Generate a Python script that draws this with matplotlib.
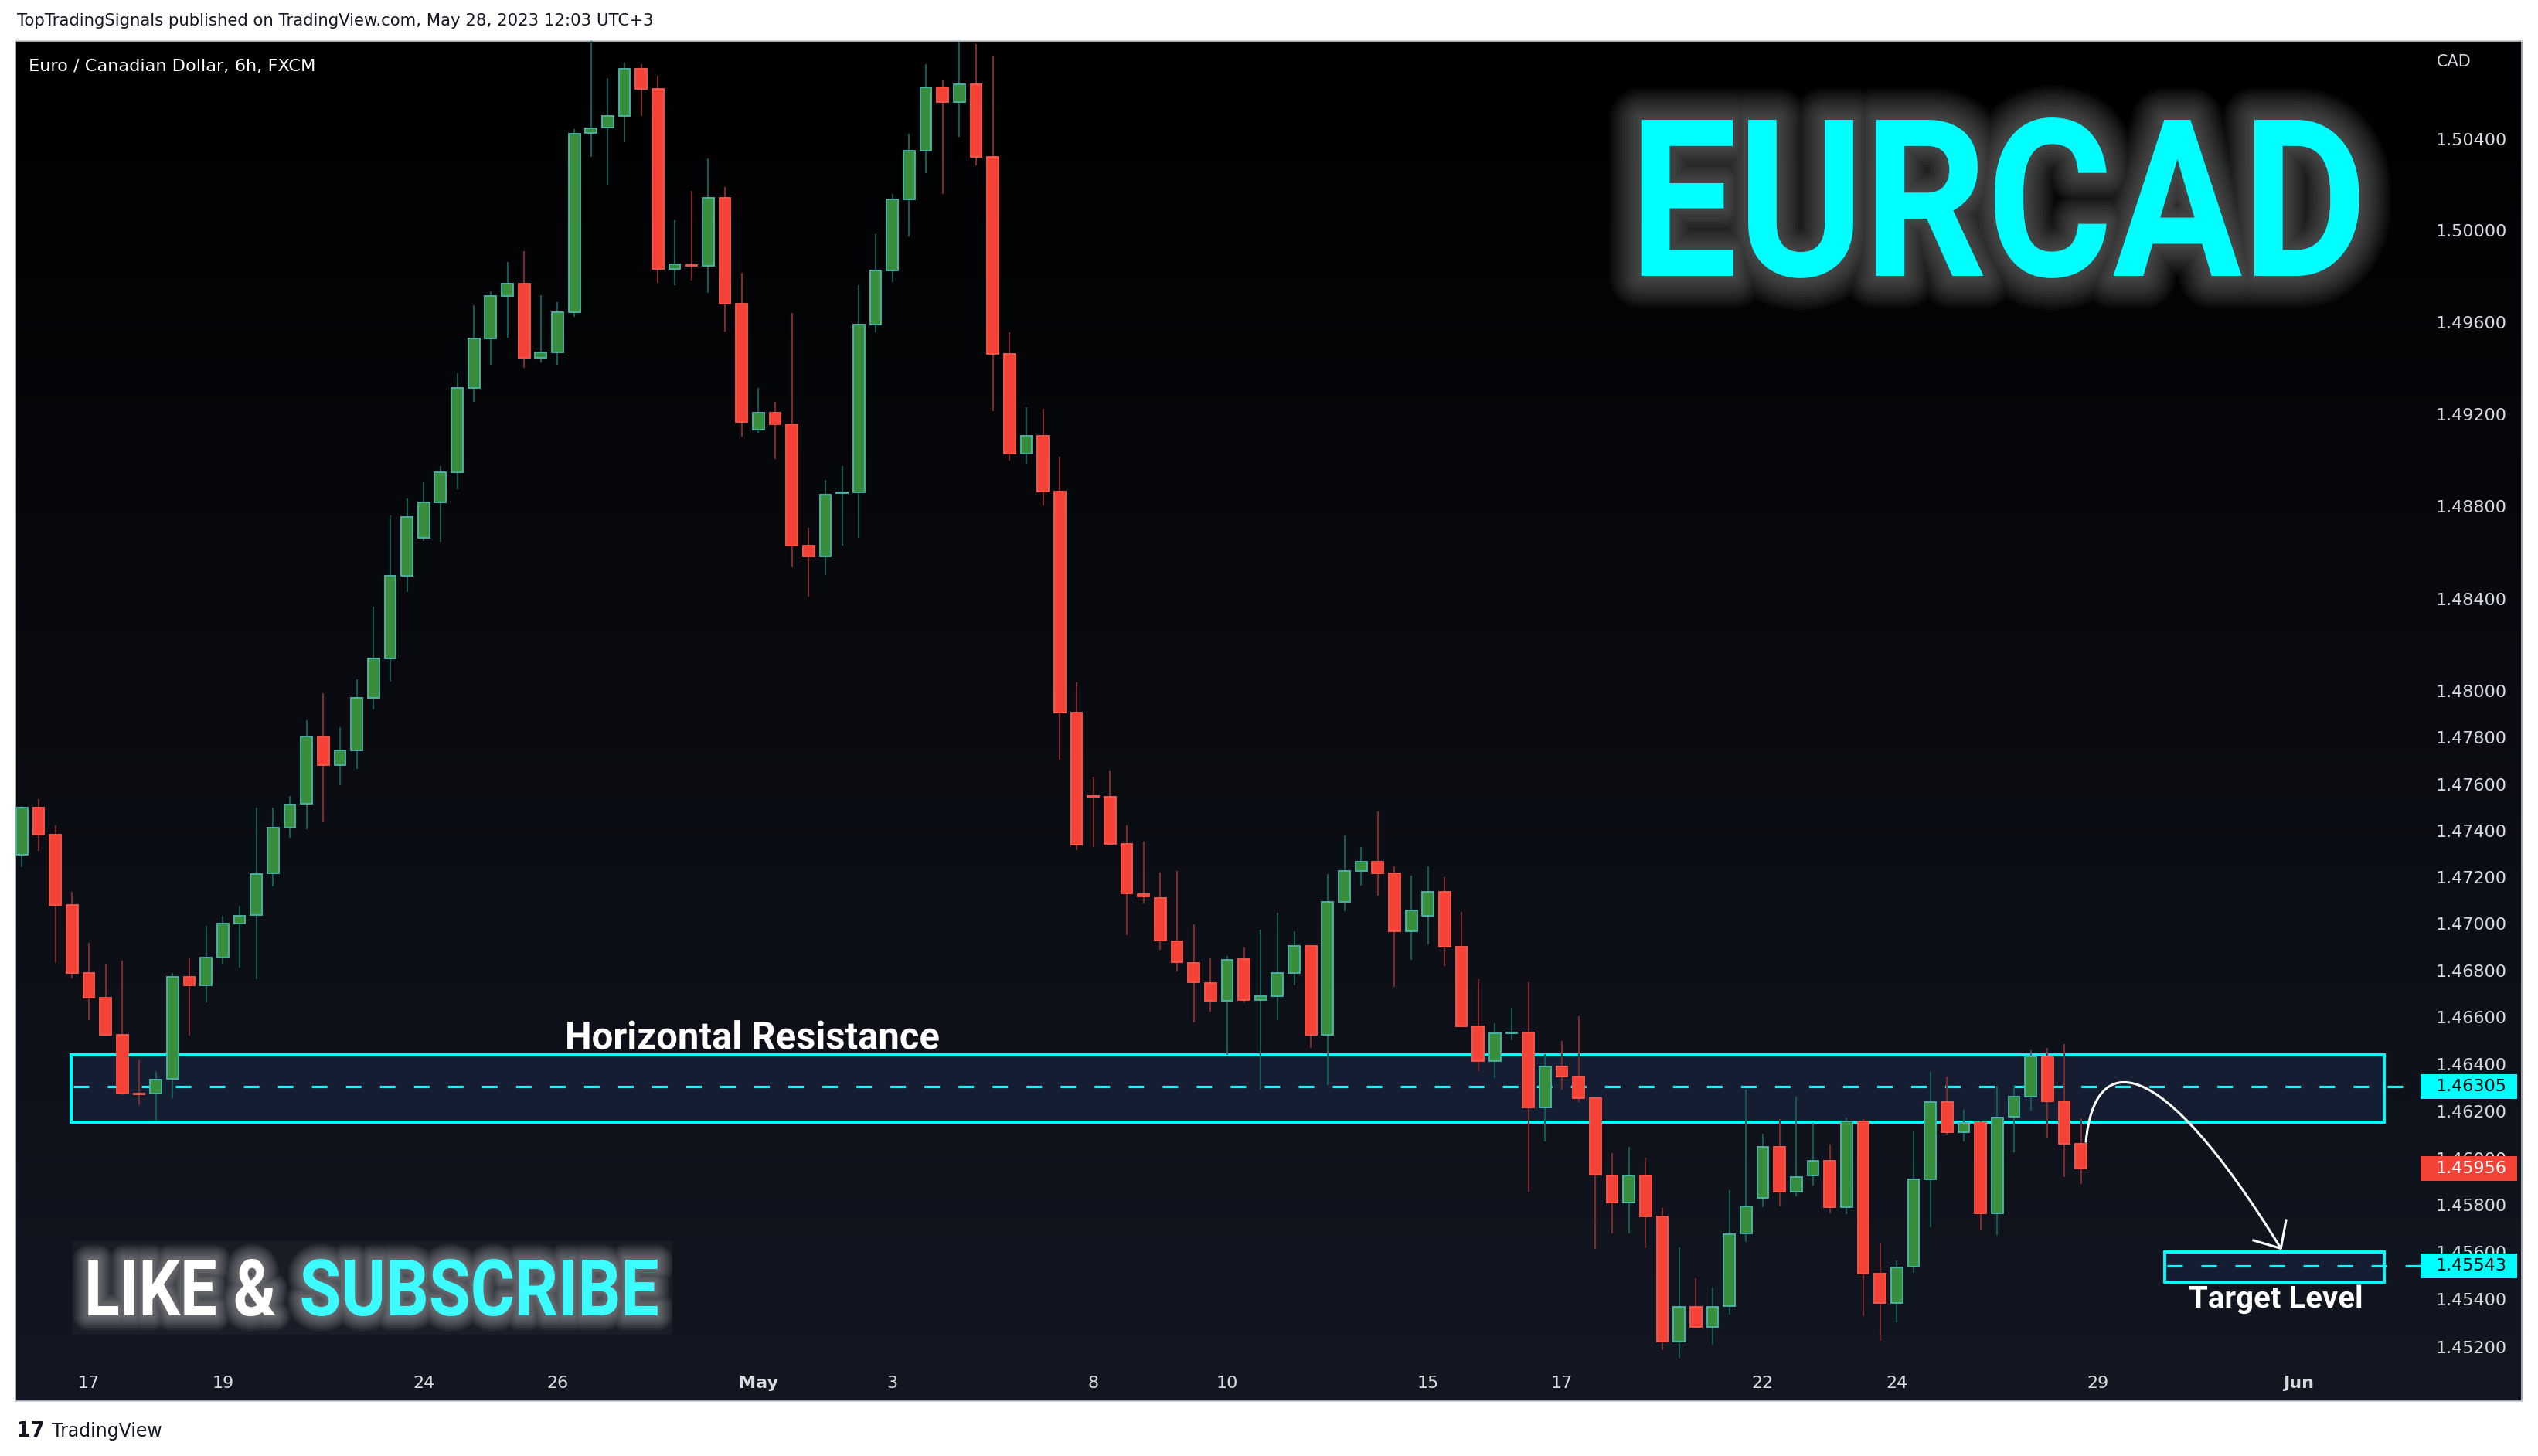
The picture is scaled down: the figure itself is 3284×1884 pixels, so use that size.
import numpy as np
import matplotlib
matplotlib.use("Agg")
import matplotlib.pyplot as plt
import matplotlib.patheffects as pe
from matplotlib.colors import LinearSegmentedColormap
from matplotlib.patches import Rectangle, FancyArrowPatch
from matplotlib.path import Path
from matplotlib.ticker import FixedLocator, FixedFormatter, NullLocator
from matplotlib.transforms import Affine2D, blended_transform_factory

plt.rcParams['font.family'] = ['DejaVu Sans']
plt.rcParams['lines.scale_dashes'] = False

W, H = 3284, 1884

# EURCAD 6h candles, bar 0 = Apr 17 00:00, leftmost visible bar is -4
first_bar = -4
opens = [1.47298, 1.47499, 1.47384, 1.47081, 1.46789, 1.46683, 1.46527, 1.46276, 1.46274, 1.46338,
         1.46772, 1.46736, 1.46857, 1.47001, 1.47037, 1.47216, 1.47412, 1.47514, 1.47804, 1.47681,
         1.47746, 1.47970, 1.48140, 1.48500, 1.48662, 1.48816, 1.48949, 1.49313, 1.49528, 1.49715,
         1.49769, 1.49446, 1.49470, 1.49642, 1.50427, 1.50450, 1.50501, 1.50709, 1.50619, 1.49831,
         1.49849, 1.49847, 1.50142, 1.49682, 1.49132, 1.49207, 1.49155, 1.48628, 1.48583, 1.48856,
         1.48861, 1.49591, 1.49824, 1.50136, 1.50351, 1.50629, 1.50562, 1.50641, 1.50324, 1.49461,
         1.49027, 1.49105, 1.48865, 1.47908, 1.47548, 1.47545, 1.47344, 1.47128, 1.47112, 1.46927,
         1.46832, 1.46747, 1.46670, 1.46848, 1.46675, 1.46692, 1.46789, 1.46905, 1.46527, 1.47093,
         1.47226, 1.47268, 1.47216, 1.46967, 1.47034, 1.47137, 1.46901, 1.46562, 1.46412, 1.46533,
         1.46537, 1.46215, 1.46389, 1.46346, 1.46257, 1.45928, 1.45813, 1.45925, 1.45751, 1.45223,
         1.45369, 1.45283, 1.45371, 1.45680, 1.45832, 1.46049, 1.45856, 1.45925, 1.45990, 1.45792,
         1.46157, 1.45510, 1.45384, 1.45538, 1.45911, 1.46238, 1.46109, 1.46153, 1.45764, 1.46176,
         1.46261, 1.46434, 1.46243, 1.46060]
highs = [1.47504, 1.47536, 1.47422, 1.47137, 1.46918, 1.46827, 1.46842, 1.46419, 1.46368, 1.46789,
         1.46854, 1.46992, 1.47034, 1.47078, 1.47498, 1.47498, 1.47550, 1.47875, 1.47991, 1.47844,
         1.48050, 1.48366, 1.48760, 1.48832, 1.48905, 1.48974, 1.49377, 1.49674, 1.49734, 1.49862,
         1.49909, 1.49717, 1.49686, 1.50443, 1.50830, 1.50668, 1.50736, 1.50728, 1.50677, 1.50044,
         1.50173, 1.50314, 1.50190, 1.49816, 1.49313, 1.49253, 1.49640, 1.48706, 1.48914, 1.48974,
         1.49763, 1.49983, 1.50161, 1.50424, 1.50728, 1.50659, 1.50828, 1.50816, 1.50768, 1.49555,
         1.49231, 1.49222, 1.49015, 1.48038, 1.47631, 1.47658, 1.47421, 1.47353, 1.47221, 1.47227,
         1.46997, 1.46853, 1.46862, 1.46900, 1.46975, 1.47047, 1.46969, 1.46910, 1.47214, 1.47380,
         1.47330, 1.47483, 1.47247, 1.47206, 1.47247, 1.47201, 1.47051, 1.46764, 1.46575, 1.46641,
         1.46751, 1.46444, 1.46499, 1.46605, 1.46260, 1.46022, 1.46049, 1.46002, 1.45789, 1.45621,
         1.45489, 1.45451, 1.45864, 1.46293, 1.46104, 1.46166, 1.46263, 1.46149, 1.46058, 1.46172,
         1.46166, 1.45642, 1.45564, 1.46114, 1.46368, 1.46347, 1.46206, 1.46160, 1.46307, 1.46311,
         1.46459, 1.46470, 1.46486, 1.46170]
lows = [1.47243, 1.47312, 1.46834, 1.46766, 1.46588, 1.46522, 1.46270, 1.46225, 1.46160, 1.46255,
        1.46522, 1.46664, 1.46825, 1.46812, 1.46762, 1.47159, 1.47369, 1.47405, 1.47435, 1.47594,
        1.47664, 1.47922, 1.48041, 1.48429, 1.48649, 1.48645, 1.48874, 1.49253, 1.49413, 1.49532,
        1.49400, 1.49423, 1.49415, 1.49622, 1.50324, 1.50196, 1.50388, 1.50503, 1.49771, 1.49763,
        1.49783, 1.49727, 1.49559, 1.49103, 1.49120, 1.49003, 1.48537, 1.48407, 1.48503, 1.48628,
        1.48662, 1.49555, 1.49775, 1.49974, 1.50251, 1.50161, 1.50412, 1.50285, 1.49213, 1.48997,
        1.48985, 1.48802, 1.47705, 1.47316, 1.47331, 1.47338, 1.46953, 1.47088, 1.46888, 1.46798,
        1.46579, 1.46625, 1.46440, 1.46664, 1.46293, 1.46590, 1.46737, 1.46468, 1.46310, 1.47055,
        1.47163, 1.47121, 1.46730, 1.46846, 1.46912, 1.46820, 1.46558, 1.46372, 1.46340, 1.46501,
        1.45858, 1.46070, 1.46293, 1.46238, 1.45614, 1.45680, 1.45681, 1.45619, 1.45187, 1.45152,
        1.45279, 1.45208, 1.45337, 1.45645, 1.45792, 1.45794, 1.45839, 1.45883, 1.45764, 1.45761,
        1.45328, 1.45225, 1.45303, 1.45512, 1.45706, 1.46100, 1.46070, 1.45693, 1.45674, 1.46024,
        1.46204, 1.46086, 1.45919, 1.45890]
closes = [1.47499, 1.47384, 1.47081, 1.46789, 1.46683, 1.46527, 1.46274, 1.46272, 1.46334, 1.46772,
          1.46736, 1.46857, 1.47000, 1.47034, 1.47214, 1.47412, 1.47512, 1.47804, 1.47681, 1.47746,
          1.47970, 1.48140, 1.48500, 1.48752, 1.48816, 1.48949, 1.49313, 1.49528, 1.49715, 1.49769,
          1.49446, 1.49470, 1.49642, 1.50425, 1.50448, 1.50501, 1.50709, 1.50619, 1.49831, 1.49851,
          1.49845, 1.50142, 1.49682, 1.49167, 1.49207, 1.49155, 1.48628, 1.48583, 1.48851, 1.48857,
          1.49591, 1.49824, 1.50136, 1.50351, 1.50629, 1.50562, 1.50641, 1.50324, 1.49461, 1.49027,
          1.49105, 1.48865, 1.47908, 1.47338, 1.47545, 1.47344, 1.47131, 1.47118, 1.46930, 1.46835,
          1.46749, 1.46670, 1.46847, 1.46673, 1.46690, 1.46789, 1.46905, 1.46527, 1.47093, 1.47226,
          1.47268, 1.47216, 1.46967, 1.47059, 1.47137, 1.46901, 1.46562, 1.46412, 1.46531, 1.46537,
          1.46215, 1.46389, 1.46346, 1.46257, 1.45930, 1.45813, 1.45925, 1.45751, 1.45223, 1.45369,
          1.45283, 1.45369, 1.45678, 1.45796, 1.46049, 1.45856, 1.45921, 1.45990, 1.45792, 1.46157,
          1.45510, 1.45384, 1.45536, 1.45911, 1.46238, 1.46109, 1.46151, 1.45764, 1.46174, 1.46261,
          1.46434, 1.46243, 1.46060, 1.45956]

date_ticks = [0, 8, 20, 28, 40, 48, 60, 68, 80, 88, 100, 108, 120, 132]
date_labels = ["17", "19", "24", "26", "May", "3", "8", "10", "15", "17", "22", "24", "29", "Jun"]
month_labels = ["May", "Jun"]

price_ticks = [1.504, 1.500, 1.496, 1.492, 1.488, 1.484, 1.480, 1.478, 1.476, 1.474, 1.472,
               1.470, 1.468, 1.466, 1.464, 1.462, 1.460, 1.458, 1.456, 1.454, 1.452]
price_range = (1.44970, 1.50831)

resistance_zone = (1.46153, 1.46440)
resistance_level = 1.46305
resistance_bars = (-1.07, 137.1)
target_zone = (1.45474, 1.45602)
target_level = 1.45543
target_bars = (124.0, 137.1)
last_price = 1.45956

# hand drawn projection: start at last candle, hook over the level, down to target
projection = [(119.3, 1.4607), (119.8, 1.4645), (123.5, 1.4648), (131.0, 1.4561)]

# layout (pixels)
frame = (20, 53, 3263, 1813)          # left, top, right, bottom
bar0_px, bar_px = 115, 21.66           # x of bar 0 and bar spacing
scale_left_px = 3132                   # start of the price scale labels

up_fill, up_edge, up_wick = '#388e3c', '#4db6ac', '#135a54'
dn_fill, dn_edge, dn_wick = '#f44336', '#f65a4f', '#7d2a2a'
cyan = '#00ffff'
axis_text = '#d8dbe2'


class Stretch(pe.AbstractPathEffect):
    """Scale a text path about its baseline origin (optionally through another effect)."""

    def __init__(self, sx, sy, inner=None):
        super().__init__()
        self.sx = sx
        self.sy = sy
        self.inner = inner

    def draw_path(self, renderer, gc, tpath, affine, rgbFace=None):
        affine = Affine2D().scale(self.sx, self.sy) + affine
        if self.inner is None:
            renderer.draw_path(gc, tpath, affine, rgbFace)
        else:
            self.inner.draw_path(renderer, gc, tpath, affine, rgbFace)


fig = plt.figure(figsize=(W / 100, H / 100), dpi=100, facecolor='white')
renderer = fig.canvas.get_renderer()

fl, ft, fr, fb = frame
rect = [fl / W, 1 - fb / H, (fr - fl) / W, (fb - ft) / H]

bg = fig.add_axes(rect, zorder=0)
grad = np.linspace(0, 1, 256)[:, None]
bg.imshow(grad, aspect='auto', extent=[0, 1, 0, 1], origin='upper',
          cmap=LinearSegmentedColormap.from_list('tv', ['#000000', '#131722']))
bg.axis('off')

ax = fig.add_axes(rect, zorder=1)
ax.set_facecolor('none')
ax.set_yscale('log')
ax.set_xlim((fl - bar0_px) / bar_px, (fr - bar0_px) / bar_px)
ax.set_ylim(*price_range)

o = np.array(opens)
h = np.array(highs)
l = np.array(lows)
c = np.array(closes)
x = np.arange(first_bar, first_bar + len(o))
up = c >= o

# zones
for (lo, hi), (b0, b1) in [(resistance_zone, resistance_bars), (target_zone, target_bars)]:
    ax.add_patch(Rectangle((b0, lo), b1 - b0, hi - lo, facecolor='#141d31',
                           edgecolor=cyan, linewidth=2.8, zorder=1))
scale_bar = (scale_left_px - bar0_px) / bar_px
for lvl, (b0, b1) in [(resistance_level, resistance_bars), (target_level, target_bars)]:
    ax.plot([b0 + 0.15, scale_bar], [lvl, lvl], color=cyan, linewidth=2.3,
            dashes=(14.4, 17.3), zorder=1.5)

# candles
ax.vlines(x[up], l[up], h[up], color=up_wick, linewidth=1.5, zorder=3)
ax.vlines(x[~up], l[~up], h[~up], color=dn_wick, linewidth=1.5, zorder=3)
body_lo = np.minimum(o, c)
body_h = np.maximum(np.abs(c - o), 0.00003)
ax.bar(x[up], body_h[up], bottom=body_lo[up], width=0.68, color=up_fill,
       edgecolor=up_edge, linewidth=1.3, zorder=4)
ax.bar(x[~up], body_h[~up], bottom=body_lo[~up], width=0.68, color=dn_fill,
       edgecolor=dn_edge, linewidth=1.3, zorder=4)

# projection arrow
codes = [Path.MOVETO, Path.CURVE4, Path.CURVE4, Path.CURVE4]
ax.add_patch(FancyArrowPatch(path=Path(projection, codes), color='white', linewidth=2.2,
                             arrowstyle='->,head_length=0.5,head_width=0.45',
                             mutation_scale=40, zorder=6))

# axes styling
ax.yaxis.set_major_locator(FixedLocator(price_ticks))
ax.yaxis.set_major_formatter(FixedFormatter([f"{p:.5f}" for p in price_ticks]))
ax.yaxis.set_minor_locator(NullLocator())
ax.tick_params(axis='y', which='both', left=False, right=False, labelleft=False,
               labelright=True, length=0, pad=-80, labelsize=16, labelcolor=axis_text)
ax.xaxis.set_major_locator(FixedLocator(date_ticks))
ax.xaxis.set_major_formatter(FixedFormatter(date_labels))
ax.tick_params(axis='x', length=0, pad=-24, labelsize=16, labelcolor=axis_text)
for t in ax.get_xticklabels():
    if t.get_text() in month_labels:
        t.set_fontweight('bold')
for s in ax.spines.values():
    s.set_color('#c3c6ce')
    s.set_linewidth(1.2)

# price scale labels
ax_h_px = fb - ft
log_per_px = np.log(price_range[1] / price_range[0]) / ax_h_px
scale_tf = blended_transform_factory(ax.transAxes, ax.transData)
box_x0 = (scale_left_px - fl) / (fr - fl)
box_x1 = (3257 - fl) / (fr - fl)
text_x = (3152 - fl) / (fr - fl)
for price, face, ink in [(resistance_level, cyan, 'black'), (last_price, dn_fill, 'white'),
                         (target_level, cyan, 'black')]:
    lo = price * np.exp(-16 * log_per_px)
    hi = price * np.exp(16 * log_per_px)
    ax.add_patch(Rectangle((box_x0, lo), box_x1 - box_x0, hi - lo, transform=scale_tf,
                           facecolor=face, edgecolor='none', zorder=10, clip_on=False))
    ax.text(text_x, price, f"{price:.5f}", transform=scale_tf, ha='left', va='center',
            fontsize=16, color=ink, zorder=11)

ax.text((3153 - fl) / (fr - fl), 1 - (80 - ft) / ax_h_px, "CAD", transform=ax.transAxes,
        ha='left', va='center', fontsize=15, color=axis_text)
ax.text((37 - fl) / (fr - fl), 1 - (86 - ft) / ax_h_px, "Euro / Canadian Dollar, 6h, FXCM",
        transform=ax.transAxes, ha='left', va='center', fontsize=16.2, color='white')

# header / footer
fig.text(22 / W, 1 - 27 / H, "TopTradingSignals published on TradingView.com, May 28, 2023 12:03 UTC+3",
         ha='left', va='center', fontsize=15.3, color='#131722')
fig.text(21 / W, 1 - 1852 / H, "17", ha='left', va='center', fontsize=19, fontweight='heavy',
         color='#131722')
fig.text(67 / W, 1 - 1852 / H, "TradingView", ha='left', va='center', fontsize=17,
         color='#131722')


def banner(px, py, text, size, width, color, glow=None, layers=0, spread=0.0, alpha=0.07):
    """Bold text fitted to a width; the font is sized by width and stretched to cap height."""
    t = fig.text(px / W, 1 - py / H, text, fontsize=size, color=color, family='Roboto',
                 fontweight='bold', ha='left', va='baseline', zorder=5)
    k = width / t.get_window_extent(renderer).width
    t.set_fontsize(size * k)
    sy = 1.0 / k
    effects = []
    if glow:
        for lw in np.linspace(spread, spread / layers, layers):
            effects.append(Stretch(1.0, sy, pe.Stroke(linewidth=lw, foreground=glow, alpha=alpha)))
    effects.append(Stretch(1.0, sy))
    t.set_path_effects(effects)
    return t


fig.add_artist(Rectangle((93 / W, 1 - 1727 / H), (870 - 93) / W, (1727 - 1606) / H,
                         transform=fig.transFigure, facecolor='white', alpha=0.035,
                         edgecolor='none', zorder=2))
banner(2108, 357, "EURCAD", 204.5, 955, cyan, glow='#9a9a9a', layers=12, spread=60, alpha=0.05)
banner(109, 1702, "LIKE &", 72.9, 248, 'white', glow='#c8c8c8', layers=8, spread=28, alpha=0.07)
banner(387.5, 1702, "SUBSCRIBE", 72.9, 465, '#3dfcff', glow='#c8c8c8', layers=8, spread=28,
       alpha=0.07)
banner(731, 1357.5, "Horizontal Resistance", 35.9, 485, 'white')
banner(2832, 1692, "Target Level", 28.4, 225, 'white')

fig.savefig("out.png", dpi=100, facecolor='white')
